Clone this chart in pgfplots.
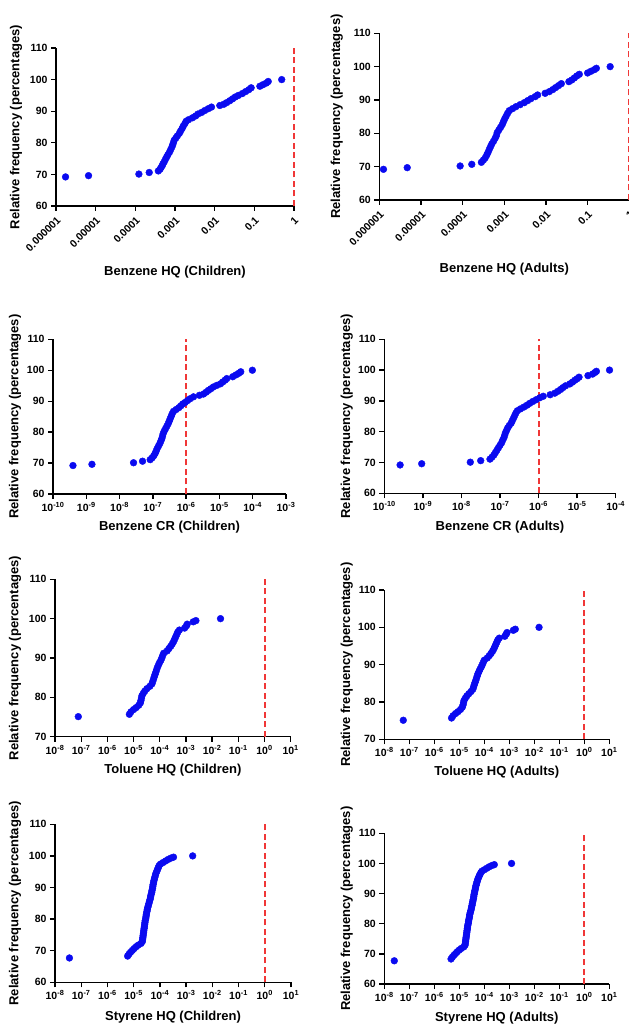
\documentclass[border=0pt]{standalone}
\usepackage{fontspec}
\setmainfont{Liberation Sans}
\usepackage{pgfplots}
\usepackage{pgfplotstable}
\pgfplotsset{compat=1.18}

\definecolor{dotblue}{RGB}{10,10,240}
\definecolor{limred}{RGB}{240,55,55}
\newcommand{\tkf}{\fontsize{10.5}{12}\selectfont\bfseries}
\newcommand{\tp}[1]{{\tkf 10\textsuperscript{#1}}}
\newcommand{\hq}[1]{{\tkf #1}}
\newcommand{\lab}[1]{\fontsize{13}{15}\selectfont\bfseries #1}

% benzene HQ, children
\pgfplotstableread{
x y
1.74e-6 69.2
6.61e-6 69.6
1.23e-4 70.1
2.24e-4 70.6
3.80e-4 71.1
4.17e-4 71.6
4.47e-4 72.2
4.79e-4 72.8
5.01e-4 73.4
5.37e-4 74.0
5.75e-4 74.8
6.17e-4 75.5
6.61e-4 76.2
7.24e-4 77.0
7.76e-4 77.8
8.32e-4 78.6
8.71e-4 79.3
9.12e-4 80.0
9.55e-4 80.8
1.05e-3 81.5
1.15e-3 82.2
1.29e-3 83.0
1.38e-3 83.7
1.51e-3 84.5
1.62e-3 85.3
1.78e-3 86.1
1.91e-3 86.8
2.19e-3 87.3
2.75e-3 87.9
3.31e-3 88.5
3.80e-3 89.1
4.68e-3 89.6
5.62e-3 90.2
6.92e-3 90.8
8.32e-3 91.3
1.35e-2 91.8
1.70e-2 92.2
2.00e-2 92.7
2.40e-2 93.3
2.82e-2 93.9
3.31e-2 94.5
3.98e-2 95.0
5.01e-2 95.6
6.03e-2 96.2
7.24e-2 96.8
8.32e-2 97.4
0.138 97.9
0.166 98.4
0.200 98.9
0.224 99.4
0.490 100.0
}\bhqc

% benzene HQ, adults
\pgfplotstableread{
x y
1.26e-6 69.2
4.68e-6 69.7
8.71e-5 70.2
1.66e-4 70.7
2.82e-4 71.3
3.16e-4 72.0
3.47e-4 72.6
3.80e-4 73.5
4.07e-4 74.3
4.37e-4 75.2
4.68e-4 76.0
5.01e-4 76.8
5.50e-4 77.6
6.03e-4 78.5
6.46e-4 79.3
6.76e-4 80.2
7.41e-4 81.0
8.13e-4 81.8
8.91e-4 82.6
9.55e-4 83.5
1.02e-3 84.3
1.10e-3 85.1
1.20e-3 86.0
1.32e-3 86.8
1.58e-3 87.4
1.91e-3 88.0
2.40e-3 88.6
3.02e-3 89.2
3.63e-3 89.8
4.37e-3 90.4
5.50e-3 91.0
6.31e-3 91.5
9.55e-3 92.0
1.20e-2 92.5
1.45e-2 93.1
1.70e-2 93.7
2.00e-2 94.3
2.34e-2 94.9
3.55e-2 95.5
4.17e-2 96.0
4.79e-2 96.6
5.50e-2 97.2
6.31e-2 97.7
0.100 98.1
0.120 98.6
0.145 99.1
0.162 99.5
0.347 100.0
}\bhqa

% benzene CR, children
\pgfplotstableread{
x y
3.98e-10 69.2
1.48e-9 69.6
2.63e-8 70.1
4.90e-8 70.6
8.32e-8 71.1
9.55e-8 71.7
1.07e-7 72.4
1.17e-7 73.1
1.26e-7 73.9
1.35e-7 74.7
1.48e-7 75.5
1.62e-7 76.3
1.74e-7 77.1
1.86e-7 77.9
1.95e-7 78.7
2.04e-7 79.5
2.19e-7 80.3
2.40e-7 81.1
2.63e-7 81.9
2.88e-7 82.7
3.09e-7 83.5
3.31e-7 84.3
3.55e-7 85.1
3.80e-7 85.9
4.17e-7 86.7
5.01e-7 87.3
6.03e-7 87.9
6.92e-7 88.5
7.94e-7 89.1
9.33e-7 89.6
1.10e-6 90.2
1.32e-6 90.8
1.66e-6 91.4
2.51e-6 91.9
3.31e-6 92.3
3.98e-6 92.9
4.68e-6 93.5
5.50e-6 94.0
6.61e-6 94.6
8.32e-6 95.1
1.07e-5 95.6
1.26e-5 96.2
1.48e-5 96.8
1.66e-5 97.3
2.51e-5 97.9
3.16e-5 98.5
3.80e-5 99.0
4.37e-5 99.5
9.77e-5 100.0
}\bcrc

% benzene CR, adults
\pgfplotstableread{
x y
2.57e-10 69.2
9.33e-10 69.6
1.70e-8 70.1
3.16e-8 70.6
5.50e-8 71.1
6.17e-8 71.7
6.92e-8 72.4
7.59e-8 73.2
8.32e-8 74.0
9.12e-8 74.8
1.00e-7 75.6
1.10e-7 76.4
1.17e-7 77.2
1.26e-7 78.0
1.32e-7 78.8
1.38e-7 79.6
1.48e-7 80.4
1.58e-7 81.2
1.74e-7 82.0
1.95e-7 82.8
2.09e-7 83.6
2.24e-7 84.4
2.40e-7 85.2
2.57e-7 86.0
2.82e-7 86.8
3.39e-7 87.4
4.17e-7 88.0
5.01e-7 88.6
5.89e-7 89.2
7.08e-7 89.8
8.71e-7 90.4
1.07e-6 91.0
1.32e-6 91.5
2.00e-6 92.0
2.63e-6 92.5
3.16e-6 93.1
3.72e-6 93.7
4.27e-6 94.3
5.01e-6 94.9
6.46e-6 95.5
7.59e-6 96.1
8.71e-6 96.7
1.00e-5 97.2
1.12e-5 97.7
1.91e-5 98.2
2.51e-5 98.7
2.88e-5 99.2
3.16e-5 99.6
6.92e-5 100.0
}\bcra

% toluene HQ, children
\pgfplotstableread{
x y
7.76e-8 75.1
6.92e-6 75.7
7.94e-6 76.3
1.00e-5 76.9
1.26e-5 77.4
1.58e-5 78.0
1.82e-5 78.6
1.91e-5 79.2
2.00e-5 79.8
2.09e-5 80.4
2.34e-5 81.0
2.69e-5 81.6
3.24e-5 82.2
4.17e-5 82.8
5.01e-5 83.4
5.37e-5 84.0
5.75e-5 84.6
6.17e-5 85.2
6.61e-5 85.8
7.08e-5 86.4
7.59e-5 87.0
8.13e-5 87.6
8.91e-5 88.2
9.77e-5 88.8
1.10e-4 89.4
1.20e-4 90.0
1.29e-4 90.6
1.41e-4 91.2
1.91e-4 91.8
2.24e-4 92.4
2.63e-4 93.0
3.02e-4 93.6
3.39e-4 94.2
3.72e-4 94.8
4.07e-4 95.4
4.47e-4 96.0
4.90e-4 96.6
5.62e-4 97.1
8.91e-4 97.6
1.05e-3 98.2
1.12e-3 98.6
1.91e-3 99.2
2.40e-3 99.5
2.09e-2 100.0
}\thqc

% toluene HQ, adults
\pgfplotstableread{
x y
5.75e-8 75.1
4.90e-6 75.7
5.62e-6 76.3
7.08e-6 76.9
8.91e-6 77.4
1.12e-5 78.0
1.32e-5 78.6
1.41e-5 79.2
1.48e-5 79.8
1.55e-5 80.4
1.74e-5 81.0
2.00e-5 81.6
2.40e-5 82.2
2.95e-5 82.8
3.47e-5 83.4
3.72e-5 84.0
3.98e-5 84.6
4.27e-5 85.2
4.57e-5 85.8
4.90e-5 86.4
5.25e-5 87.0
5.62e-5 87.6
6.17e-5 88.2
6.76e-5 88.8
7.59e-5 89.4
8.32e-5 90.0
9.12e-5 90.6
1.00e-4 91.2
1.32e-4 91.8
1.58e-4 92.4
1.86e-4 93.0
2.14e-4 93.6
2.40e-4 94.2
2.63e-4 94.8
2.88e-4 95.4
3.16e-4 96.0
3.47e-4 96.6
3.98e-4 97.1
6.61e-4 97.6
7.59e-4 98.2
8.13e-4 98.6
1.45e-3 99.2
1.74e-3 99.5
1.55e-2 100.0
}\thqa

% styrene HQ, children
\pgfplotstableread{
x y
3.55e-8 67.7
5.89e-6 68.3
6.61e-6 68.9
7.59e-6 69.5
8.91e-6 70.1
1.05e-5 70.7
1.26e-5 71.3
1.51e-5 71.8
1.91e-5 72.3
2.14e-5 72.9
2.19e-5 73.5
2.24e-5 74.1
2.29e-5 74.7
2.34e-5 75.3
2.40e-5 75.9
2.45e-5 76.5
2.51e-5 77.1
2.57e-5 77.7
2.63e-5 78.3
2.69e-5 78.9
2.75e-5 79.5
2.88e-5 80.1
2.95e-5 80.7
3.02e-5 81.3
3.09e-5 81.9
3.24e-5 82.5
3.31e-5 83.1
3.47e-5 83.7
3.63e-5 84.3
3.80e-5 84.9
3.98e-5 85.5
4.17e-5 86.1
4.37e-5 86.7
4.47e-5 87.3
4.68e-5 87.9
4.90e-5 88.5
5.01e-5 89.1
5.25e-5 89.7
5.37e-5 90.3
5.50e-5 90.9
5.75e-5 91.5
5.89e-5 92.1
6.17e-5 92.7
6.46e-5 93.3
6.76e-5 93.9
7.08e-5 94.5
7.59e-5 95.1
8.13e-5 95.7
8.71e-5 96.3
9.33e-5 96.9
1.05e-4 97.4
1.32e-4 97.9
1.66e-4 98.4
2.09e-4 98.9
2.63e-4 99.3
3.31e-4 99.6
1.78e-3 100.0
}\shqc

% styrene HQ, adults
\pgfplotstableread{
x y
2.51e-8 67.7
4.68e-6 68.3
5.25e-6 68.9
6.03e-6 69.5
7.08e-6 70.1
8.32e-6 70.7
1.00e-5 71.3
1.20e-5 71.8
1.51e-5 72.3
1.70e-5 72.9
1.74e-5 73.5
1.78e-5 74.1
1.82e-5 74.7
1.86e-5 75.3
1.91e-5 75.9
1.95e-5 76.5
2.00e-5 77.1
2.04e-5 77.7
2.09e-5 78.3
2.14e-5 78.9
2.19e-5 79.5
2.29e-5 80.1
2.34e-5 80.7
2.40e-5 81.3
2.51e-5 81.9
2.57e-5 82.5
2.63e-5 83.1
2.75e-5 83.7
2.88e-5 84.3
3.02e-5 84.9
3.09e-5 85.5
3.24e-5 86.1
3.31e-5 86.7
3.47e-5 87.3
3.55e-5 87.9
3.72e-5 88.5
3.80e-5 89.1
3.89e-5 89.7
4.07e-5 90.3
4.17e-5 90.9
4.37e-5 91.5
4.47e-5 92.1
4.68e-5 92.7
4.90e-5 93.3
5.13e-5 93.9
5.37e-5 94.5
5.75e-5 95.1
6.17e-5 95.7
6.61e-5 96.3
7.24e-5 96.9
7.94e-5 97.4
1.00e-4 97.9
1.26e-4 98.4
1.58e-4 98.9
2.00e-4 99.3
2.51e-4 99.6
1.23e-3 100.0
}\shqa

\pgfplotsset{
  cdf/.style={
    scale only axis, anchor=south west,
    axis lines=left, axis line style={-, line width=1.3pt, black},
    enlargelimits=false, clip=false,
    tick align=outside, major tick length=5pt,
    tick style={black, line width=1.3pt},
    xminorticks=false, yminorticks=false,
    every axis x label/.style={at={(axis description cs:0.5,0)}, anchor=center},
    every axis y label/.style={at={(axis description cs:-0.168,0.5)}, rotate=90, anchor=center},
    ylabel={\lab{Relative frequency (percentages)}},
    ymax=110,
    yticklabel={\tkf\pgfmathprintnumber[assume math mode=true]{\tick}},
  },
  dots/.style={only marks, mark=*, mark size=3.4pt, mark options={draw=dotblue, fill=dotblue}},
  limit/.style={limred, line width=2pt, dash pattern=on 6pt off 3.5pt},
  hqdec/.style={
    xmin=1e-6, xmax=1, ymin=60, ytick={60,70,80,90,100,110},
    xtick={1e-6,1e-5,1e-4,1e-3,1e-2,1e-1,1},
    xticklabels={\hq{0.000001},\hq{0.00001},\hq{0.0001},\hq{0.001},\hq{0.01},\hq{0.1},\hq{1}},
    xticklabel style={rotate=45, anchor=north east},
  },
  wide/.style={
    xmin=1e-8, xmax=10,
    xtick={1e-8,1e-7,1e-6,1e-5,1e-4,1e-3,1e-2,1e-1,1,10},
    xticklabels={\tp{-8},\tp{-7},\tp{-6},\tp{-5},\tp{-4},\tp{-3},\tp{-2},\tp{-1},\tp{0},\tp{1}},
  },
}

\begin{document}
\begin{tikzpicture}

\begin{semilogxaxis}[cdf, hqdec, at={(56pt,820pt)}, width=238pt, height=158pt,
  xlabel={\lab{Benzene HQ (Children)}}, xlabel style={yshift=-66pt},
  ylabel style={at={(axis description cs:-0.168,0.5)}}]
  \addplot[dots] table {\bhqc};
  \addplot[limit] coordinates {(1,60) (1,110)};
\end{semilogxaxis}

\begin{semilogxaxis}[cdf, hqdec, at={(379.3pt,826pt)}, width=250pt, height=166.7pt,
  xlabel={\lab{Benzene HQ (Adults)}}, xlabel style={yshift=-69pt},
  ylabel style={at={(axis description cs:-0.170,0.5)}}]
  \addplot[dots] table {\bhqa};
  \addplot[limit] coordinates {(1,60) (1,110)};
\end{semilogxaxis}

\begin{semilogxaxis}[cdf, at={(53pt,532pt)}, width=233pt, height=154.7pt,
  xmin=1e-10, xmax=1e-3, ymin=60, ytick={60,70,80,90,100,110},
  xtick={1e-10,1e-9,1e-8,1e-7,1e-6,1e-5,1e-4,1e-3},
  xticklabels={\tp{-10},\tp{-9},\tp{-8},\tp{-7},\tp{-6},\tp{-5},\tp{-4},\tp{-3}},
  xlabel={\lab{Benzene CR (Children)}}, xlabel style={yshift=-33pt},
  ylabel style={at={(axis description cs:-0.163,0.5)}}]
  \addplot[dots] table {\bcrc};
  \addplot[limit] coordinates {(1e-6,60) (1e-6,110)};
\end{semilogxaxis}

\begin{semilogxaxis}[cdf, at={(384.3pt,532.7pt)}, width=231.4pt, height=154pt,
  xmin=1e-10, xmax=1e-4, ymin=60, ytick={60,70,80,90,100,110},
  xtick={1e-10,1e-9,1e-8,1e-7,1e-6,1e-5,1e-4},
  xticklabels={\tp{-10},\tp{-9},\tp{-8},\tp{-7},\tp{-6},\tp{-5},\tp{-4}},
  xlabel={\lab{Benzene CR (Adults)}}, xlabel style={yshift=-33.4pt},
  ylabel style={at={(axis description cs:-0.162,0.5)}}]
  \addplot[dots] table {\bcra};
  \addplot[limit] coordinates {(1e-6,60) (1e-6,110)};
\end{semilogxaxis}

\begin{semilogxaxis}[cdf, wide, at={(55pt,289.3pt)}, width=235.7pt, height=157.4pt,
  ymin=70, ytick={70,80,90,100,110},
  xlabel={\lab{Toluene HQ (Children)}}, xlabel style={yshift=-33.3pt},
  ylabel style={at={(axis description cs:-0.170,0.5)}}]
  \addplot[dots] table {\thqc};
  \addplot[limit] coordinates {(1,70) (1,110)};
\end{semilogxaxis}

\begin{semilogxaxis}[cdf, wide, at={(384.3pt,286.7pt)}, width=225pt, height=149.3pt,
  ymin=70, ytick={70,80,90,100,110},
  xlabel={\lab{Toluene HQ (Adults)}}, xlabel style={yshift=-32.7pt},
  ylabel style={at={(axis description cs:-0.167,0.5)}}]
  \addplot[dots] table {\thqa};
  \addplot[limit] coordinates {(1,70) (1,110)};
\end{semilogxaxis}

\begin{semilogxaxis}[cdf, wide, at={(55pt,43.7pt)}, width=236pt, height=158pt,
  ymin=60, ytick={60,70,80,90,100,110},
  xlabel={\lab{Styrene HQ (Children)}}, xlabel style={yshift=-34.4pt},
  ylabel style={at={(axis description cs:-0.169,0.5)}}]
  \addplot[dots] table {\shqc};
  \addplot[limit] coordinates {(1,60) (1,110)};
\end{semilogxaxis}

\begin{semilogxaxis}[cdf, wide, at={(384.3pt,42pt)}, width=225pt, height=150.7pt,
  ymin=60, ytick={60,70,80,90,100,110},
  xlabel={\lab{Styrene HQ (Adults)}}, xlabel style={yshift=-34.3pt},
  ylabel style={at={(axis description cs:-0.167,0.5)}}]
  \addplot[dots] table {\shqa};
  \addplot[limit] coordinates {(1,60) (1,110)};
\end{semilogxaxis}

\pgfresetboundingbox
\useasboundingbox (0,0) rectangle (629pt,1026pt);
\end{tikzpicture}
\end{document}
